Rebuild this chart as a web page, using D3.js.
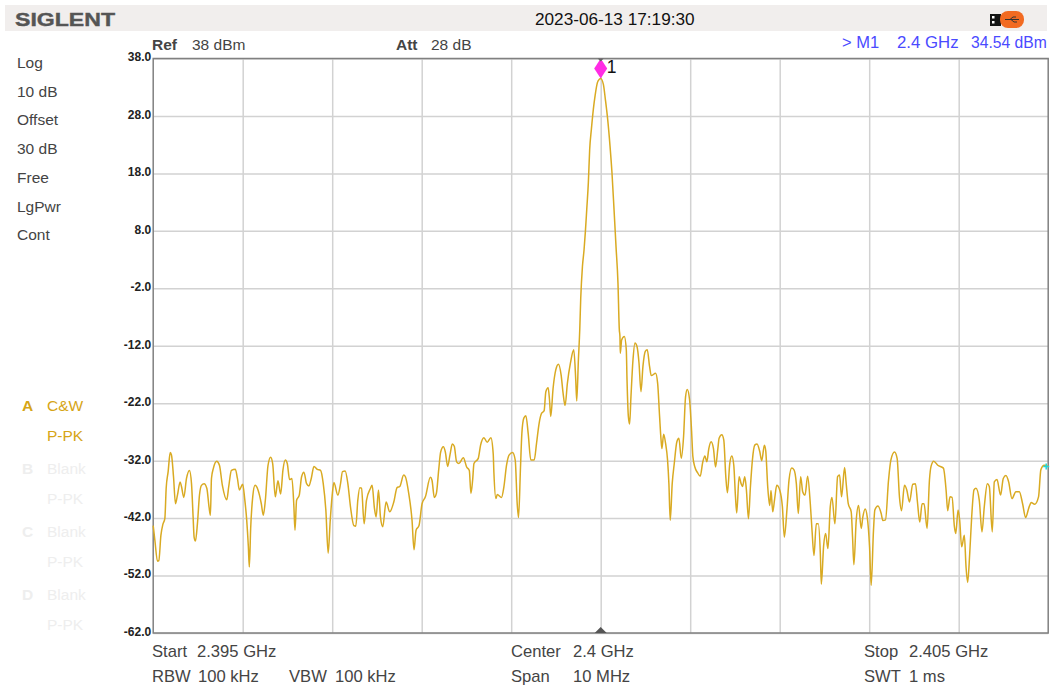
<!DOCTYPE html>
<html>
<head>
<meta charset="utf-8">
<script src="https://cdn.jsdelivr.net/npm/d3@7"></script>
<style>
  html, body { margin: 0; padding: 0; background: #fff; }
  text { font-family: "Liberation Sans", Arial, sans-serif; }
  .tick line { stroke: #d2d2d2; stroke-width: 1.5; }
  .axis path { display: none; }
</style>
</head>
<body>
<svg id="chart" width="1052" height="689"></svg>
<script>
// trace: [MHz above start frequency, level in dBm]
var tracePoints = [
  [0,-43.3],[.019,-45.9],[.048,-49.5],[.063,-49.4],[.086,-45],[.108,-43.1],[.13,-42.1],[.145,-36.8],[.167,-33.9],[.19,-30.6],
  [.204,-31],[.227,-34.8],[.249,-39.5],[.271,-38],[.301,-35.7],[.316,-36.5],[.342,-38.4],[.372,-35.1],[.405,-33.7],[.428,-36],
  [.446,-41.8],[.457,-45.3],[.472,-46],[.494,-43],[.517,-38],[.539,-36.3],[.569,-36],[.599,-36.8],[.625,-40.2],[.639,-41.5],
  [.651,-35.1],[.673,-33.3],[.71,-32.1],[.74,-32.8],[.773,-36.3],[.822,-38.8],[.844,-36.5],[.874,-33.7],[.918,-33.5],[.941,-35.1],
  [.963,-37.1],[1,-36.1],[1.022,-38.6],[1.045,-42.4],[1.063,-46.9],[1.074,-50.5],[1.089,-43.8],[1.112,-38.3],[1.138,-36.3],[1.171,-37.1],
  [1.208,-39.5],[1.23,-41.5],[1.253,-38.9],[1.283,-32.8],[1.312,-31.4],[1.335,-32.5],[1.364,-38.3],[1.394,-35.5],[1.424,-37.8],[1.45,-33.6],
  [1.476,-31.9],[1.498,-32.5],[1.524,-35.3],[1.55,-35.1],[1.572,-40],[1.584,-44.1],[1.602,-38.9],[1.632,-38],[1.658,-34.8],[1.684,-34],
  [1.714,-36],[1.74,-36.4],[1.766,-35.1],[1.796,-33],[1.833,-33.5],[1.87,-33.7],[1.9,-36],[1.929,-40.6],[1.955,-48.1],[1.978,-42.4],
  [2,-38],[2.019,-35.8],[2.063,-38],[2.093,-36],[2.115,-33.9],[2.145,-33.8],[2.175,-36],[2.204,-40],[2.242,-43.3],[2.264,-43.4],
  [2.286,-38.9],[2.309,-36.7],[2.327,-36.8],[2.357,-43],[2.383,-38.9],[2.428,-36.8],[2.446,-36.3],[2.472,-40.3],[2.491,-41.8],[2.517,-37.1],
  [2.539,-41.8],[2.565,-43.5],[2.602,-39.2],[2.643,-40.9],[2.688,-39.2],[2.725,-36.7],[2.755,-36.5],[2.799,-34.5],[2.818,-34.8],[2.855,-37.7],
  [2.892,-42.4],[2.914,-47.5],[2.937,-44.1],[2.97,-43.3],[3.004,-39.5],[3.041,-38.3],[3.097,-34.9],[3.115,-35.4],[3.141,-38.4],[3.164,-37.7],
  [3.19,-33.6],[3.212,-30.5],[3.242,-29.6],[3.264,-30.5],[3.29,-33],[3.316,-31],[3.342,-29.1],[3.364,-29.5],[3.39,-32.2],[3.416,-32.5],
  [3.465,-31.5],[3.502,-33.1],[3.532,-33.7],[3.55,-37.7],[3.569,-35.4],[3.584,-32.5],[3.632,-31.6],[3.658,-29.3],[3.695,-28],[3.732,-28.8],
  [3.773,-28],[3.799,-30.8],[3.807,-34.2],[3.829,-38.6],[3.844,-37.9],[3.892,-38.4],[3.918,-36.6],[3.948,-32.8],[3.978,-31],[4.015,-30.6],
  [4.045,-31.9],[4.067,-39.5],[4.082,-41.9],[4.104,-33.1],[4.119,-27.3],[4.141,-24.6],[4.164,-24.2],[4.19,-27.3],[4.219,-31.9],[4.257,-31.9],
  [4.283,-29],[4.312,-25.5],[4.338,-23.8],[4.368,-23.3],[4.387,-20],[4.413,-19.3],[4.428,-21.4],[4.442,-24.3],[4.468,-19.4],[4.498,-16.2],
  [4.528,-15.2],[4.558,-17.1],[4.58,-20.3],[4.602,-22.4],[4.628,-18.5],[4.662,-15],[4.699,-12.7],[4.721,-17.9],[4.732,-21.6],[4.751,-14.4],
  [4.766,-9.2],[4.777,-3.7],[4.796,1.8],[4.814,4.7],[4.829,7.9],[4.844,11.7],[4.862,16.4],[4.877,22.2],[4.896,25.7],[4.918,29.2],
  [4.937,31.5],[4.963,33.8],[4.985,34.4],[5,34.54],[5.03,33.5],[5.052,30.9],[5.078,27.4],[5.104,22.8],[5.126,18.1],[5.149,11.7],
  [5.171,5.3],[5.193,-1.1],[5.208,-9.2],[5.215,-10.4],[5.219,-13.3],[5.234,-11],[5.264,-10.4],[5.286,-12.7],[5.294,-17.9],[5.309,-24.3],
  [5.323,-25.6],[5.338,-20.9],[5.361,-14.4],[5.383,-11.5],[5.405,-12.1],[5.428,-15],[5.45,-20],[5.472,-15.6],[5.498,-13],[5.52,-12.7],
  [5.546,-15.6],[5.565,-17.2],[5.613,-16.8],[5.636,-18.5],[5.658,-24.3],[5.673,-28.1],[5.684,-29.9],[5.703,-27.4],[5.725,-29],[5.747,-31.9],
  [5.762,-36],[5.777,-42.4],[5.799,-36],[5.822,-32.5],[5.851,-28.7],[5.874,-28.1],[5.9,-31.6],[5.926,-27.8],[5.948,-20.9],[5.967,-19.6],
  [5.993,-21.4],[6.015,-26.7],[6.03,-31.3],[6.052,-33.1],[6.082,-34.1],[6.112,-34.7],[6.141,-32.2],[6.164,-31.2],[6.186,-32.2],[6.208,-29.9],
  [6.234,-28.7],[6.26,-29.9],[6.283,-33.1],[6.309,-29.9],[6.323,-28.1],[6.353,-27.5],[6.375,-28.4],[6.398,-34.8],[6.416,-37.6],[6.442,-32.5],
  [6.465,-31.2],[6.487,-32.8],[6.506,-38.3],[6.52,-41.1],[6.546,-34.8],[6.569,-36],[6.584,-36.5],[6.61,-34.8],[6.628,-37.1],[6.651,-42.1],
  [6.673,-36.5],[6.695,-31.9],[6.721,-29.3],[6.747,-29.1],[6.777,-30.4],[6.799,-32],[6.829,-29.3],[6.844,-30.3],[6.866,-36.5],[6.888,-39.8],
  [6.903,-37.2],[6.922,-40.9],[6.944,-38.6],[6.967,-36.3],[7,-37.1],[7.03,-40],[7.052,-45.3],[7.082,-40.3],[7.104,-35.4],[7.134,-33.3],
  [7.16,-33.6],[7.186,-36],[7.208,-41.2],[7.234,-34.8],[7.257,-37.4],[7.283,-38],[7.312,-34.7],[7.342,-39.5],[7.361,-44.1],[7.383,-48.5],
  [7.409,-43],[7.431,-43],[7.454,-48.2],[7.465,-53.5],[7.491,-46.8],[7.513,-44.7],[7.539,-47.3],[7.565,-40],[7.584,-38.4],[7.617,-43],
  [7.647,-34.8],[7.669,-34.5],[7.691,-38.3],[7.725,-33.2],[7.743,-36],[7.766,-39.5],[7.799,-40.9],[7.814,-45.3],[7.829,-50.1],[7.855,-42.4],
  [7.881,-39.8],[7.911,-43.8],[7.929,-41.8],[7.955,-40.4],[7.978,-41.8],[8.004,-47],[8.022,-53.7],[8.048,-44.1],[8.063,-40.6],[8.097,-39.9],
  [8.134,-41.2],[8.152,-42.4],[8.182,-42.3],[8.216,-35.4],[8.242,-31.9],[8.283,-30.5],[8.312,-31.6],[8.338,-38.3],[8.361,-40.7],[8.394,-36.3],
  [8.42,-37.1],[8.45,-39.2],[8.487,-36.1],[8.517,-36],[8.539,-39.2],[8.565,-42.7],[8.591,-39.5],[8.613,-39.5],[8.647,-43.8],[8.673,-35.4],
  [8.691,-33],[8.721,-32.1],[8.766,-32.8],[8.829,-33.3],[8.859,-37.1],[8.877,-40.7],[8.903,-38.3],[8.926,-38.4],[8.952,-43.5],[8.967,-44.7],
  [8.993,-40.6],[9.011,-42.4],[9.033,-47],[9.063,-45],[9.082,-50.5],[9.1,-53.2],[9.123,-48.2],[9.145,-41.8],[9.171,-37.1],[9.193,-36.8],
  [9.23,-38.9],[9.26,-44.4],[9.286,-40],[9.32,-36],[9.342,-36.5],[9.375,-44.4],[9.398,-35.7],[9.428,-35.3],[9.468,-38],[9.498,-35.1],
  [9.528,-34.6],[9.558,-35.7],[9.595,-38.6],[9.639,-37.4],[9.677,-37.4],[9.714,-39.5],[9.747,-41.9],[9.788,-40],[9.81,-39.3],[9.848,-39.6],
  [9.892,-38.3],[9.918,-33.6],[9.955,-32.8],[10,-33]
];

var levelTicks = [38, 28, 18, 8, -2, -12, -22, -32, -42, -52, -62];
var freqTicks = [1, 2, 3, 4, 5, 6, 7, 8, 9];

var sideLabels = ["Log", "10 dB", "Offset", "30 dB", "Free", "LgPwr", "Cont"];
var traceLetters = ["A", "B", "C", "D"];
var traceModes = ["C&W", "Blank", "Blank", "Blank"];

var svg = d3.select("#chart");
var margin = { left: 153.2, right: 3.8, top: 58.5, bottom: 56 };
var width = 1052, height = 689;

var x = d3.scaleLinear().domain([0, 10]).range([margin.left, width - margin.right]);
var y = d3.scaleLinear().domain([-62, 38]).range([height - margin.bottom, margin.top]);

// header band
svg.append("rect").attr("x", 5).attr("y", 5).attr("width", 1042).attr("height", 26).attr("fill", "#f1eeed");
svg.append("text").attr("x", 15).attr("y", 25.5).attr("font-size", 19).attr("font-weight", "bold")
    .attr("fill", "#555").attr("stroke", "#555").attr("stroke-width", 0.4)
    .attr("textLength", 100).attr("lengthAdjust", "spacingAndGlyphs").text("SIGLENT");
svg.append("text").attr("x", 535).attr("y", 24.5).attr("font-size", 17.2).attr("fill", "#111").text("2023-06-13 17:19:30");

// usb icon
svg.append("rect").attr("x", 990).attr("y", 14).attr("width", 11).attr("height", 12).attr("fill", "#151515");
svg.append("rect").attr("x", 992).attr("y", 16).attr("width", 2.5).attr("height", 2.5).attr("fill", "#fff");
svg.append("rect").attr("x", 992).attr("y", 21).attr("width", 2.5).attr("height", 2.5).attr("fill", "#fff");
svg.append("rect").attr("x", 1000).attr("y", 11).attr("width", 24).attr("height", 17).attr("rx", 8).attr("fill", "#f26a21");
svg.append("path").attr("d", "M1005 19.5H1019M1010 19.5L1013 17H1016M1011 19.5L1014 22H1017").attr("stroke", "#333").attr("fill", "none");

function label(px, py, txt, color, bold, size) {
    return svg.append("text").attr("x", px).attr("y", py).attr("font-size", size || 15.5)
        .attr("fill", color || "#444").attr("font-weight", bold ? "bold" : "normal").text(txt);
}

label(152, 50, "Ref", "#444", true);
label(192, 50, "38 dBm");
label(396, 50, "Att", "#444", true);
label(431, 50, "28 dB");
label(842, 48, "> M1", "#4a4aff", false, 16.5);
label(897, 48, "2.4 GHz", "#4a4aff", false, 16.8);
label(971, 48, "34.54 dBm", "#4a4aff", false, 15.7);

sideLabels.forEach(function (d, i) {
    label(17, 68 + i * 28.7, d);
});

traceLetters.forEach(function (d, i) {
    var active = i == 0;
    var color = active ? "#d6a516" : "#eeeeee";
    label(22, 411 + i * 63, d, color, true);
    label(47, 411 + i * 63, traceModes[i], color);
    label(47, 441 + i * 63, "P-PK", color);
});

var footSize = 16.6;
label(152, 657, "Start", "#444", false, footSize);
label(197, 657, "2.395 GHz", "#444", false, footSize);
label(152, 682, "RBW", "#444", false, footSize);
label(198, 682, "100 kHz", "#444", false, footSize);
label(289, 682, "VBW", "#444", false, footSize);
label(335, 682, "100 kHz", "#444", false, footSize);
label(511, 657, "Center", "#444", false, footSize);
label(573, 657, "2.4 GHz", "#444", false, footSize);
label(511, 682, "Span", "#444", false, footSize);
label(573, 682, "10 MHz", "#444", false, footSize);
label(864, 657, "Stop", "#444", false, footSize);
label(909, 657, "2.405 GHz", "#444", false, footSize);
label(864, 682, "SWT", "#444", false, footSize);
label(909, 682, "1 ms", "#444", false, footSize);

// grid through the axes
var plotW = x.range()[1] - x.range()[0];
var plotH = y.range()[0] - y.range()[1];

var yAxis = d3.axisLeft(y).tickValues(levelTicks).tickSize(-plotW).tickPadding(2)
    .tickFormat(function (d) { return d.toFixed(1); });
var gy = svg.append("g").attr("class", "axis").attr("transform", "translate(" + margin.left + ",0)").call(yAxis);
gy.selectAll("text").attr("font-size", 12).attr("font-weight", "bold").attr("fill", "#222")
    .attr("font-family", '"Liberation Sans", Arial, sans-serif').attr("x", -2).attr("dy", "0.2em");

var xAxis = d3.axisBottom(x).tickValues(freqTicks).tickSize(-plotH).tickFormat("");
svg.append("g").attr("class", "axis").attr("transform", "translate(0," + y.range()[0] + ")").call(xAxis);

// frame
svg.append("rect").attr("x", margin.left).attr("y", margin.top).attr("width", plotW).attr("height", plotH)
    .attr("fill", "none").attr("stroke", "#808080").attr("stroke-width", 1.5);

// trace
var line = d3.line().curve(d3.curveMonotoneX).x(function (d) { return x(d[0]); }).y(function (d) { return y(d[1]); });
svg.append("path").datum(tracePoints).attr("d", line).attr("fill", "none")
    .attr("stroke", "#d9aa22").attr("stroke-width", 1.5).attr("stroke-linejoin", "round");

// marker 1 on the peak
var peak = tracePoints.reduce(function (a, b) { return b[1] > a[1] ? b : a; });
var mx = x(peak[0]), my = y(peak[1]);
svg.append("path").attr("transform", "translate(" + mx + "," + (my - 10) + ")")
    .attr("d", "M0 -10L6.5 0L0 10L-6.5 0Z").attr("fill", "#ff2be4");
label(mx + 6, my - 5, "1", "#111", false, 17.5);

// center and top ticks
svg.append("path").attr("transform", "translate(" + x(5) + "," + y.range()[0] + ")")
    .attr("d", "M-6 0L0 -6L6 0Z").attr("fill", "#555");
svg.append("path").attr("transform", "translate(" + x(5) + "," + margin.top + ")")
    .attr("d", "M-3 0L0 3L3 0Z").attr("fill", "#666");

// sweep end marker
var last = tracePoints[tracePoints.length - 1];
svg.append("path").attr("transform", "translate(" + (x(last[0]) - 2) + "," + y(last[1]) + ")")
    .attr("d", "M-3 0H3M0 -3V3").attr("stroke", "#22d8d8").attr("stroke-width", 1.5);
</script>
</body>
</html>
